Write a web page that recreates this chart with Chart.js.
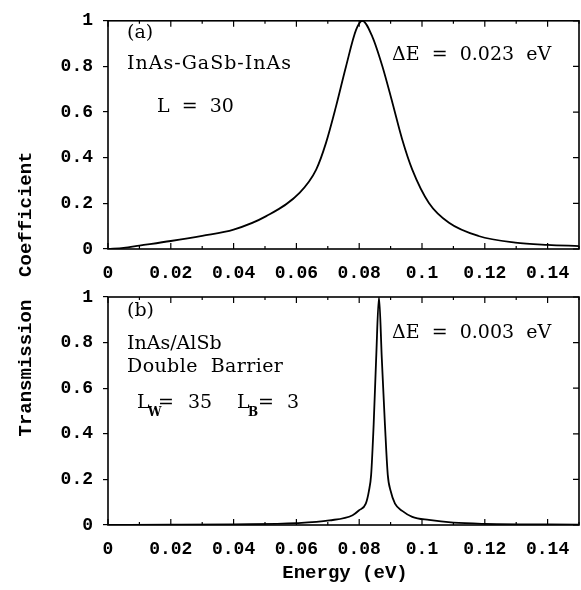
<!DOCTYPE html>
<html>
<head>
<meta charset="utf-8">
<script src="https://cdn.jsdelivr.net/npm/chart.js@4.4.1/dist/chart.umd.min.js"></script>
<style>
  html, body { margin: 0; padding: 0; background: #fff; }
  #wrap { position: relative; width: 581px; height: 590px; }
  #wrap canvas { position: absolute; left: 0; top: 0; }
</style>
</head>
<body>
<div id="wrap">
  <canvas id="chartA" width="581" height="590"></canvas>
  <canvas id="chartB" width="581" height="590"></canvas>
</div>
<script>
// --- Data ---
// (a) InAs-GaSb-InAs, L = 30
const energyA = [0, 0.005, 0.01, 0.02, 0.03, 0.04, 0.0504, 0.061, 0.0663, 0.0694, 0.0726, 0.0758, 0.079, 0.081,
                 0.0842, 0.0874, 0.0906, 0.0937, 0.0969, 0.1022, 0.1086, 0.118, 0.1297, 0.14, 0.15];
const transA  = [0, 0.005, 0.015, 0.035, 0.058, 0.085, 0.144, 0.246, 0.348, 0.464, 0.624, 0.80, 0.96, 1.0,
                 0.93, 0.80, 0.64, 0.48, 0.348, 0.202, 0.115, 0.057, 0.028, 0.018, 0.013];

// (b) InAs/AlSb double barrier, Lw = 35, Lb = 3
const energyB = [0, 0.02, 0.04, 0.06, 0.0705, 0.0779, 0.08, 0.0821, 0.0831, 0.0838, 0.0846, 0.0854, 0.0863,
                 0.0872, 0.0882, 0.0891, 0.09, 0.0914, 0.0937, 0.0969, 0.1022, 0.11, 0.12, 0.15];
const transB  = [0, 0.001, 0.003, 0.008, 0.02, 0.043, 0.065, 0.094, 0.15, 0.22, 0.44, 0.73, 1.0,
                 0.73, 0.44, 0.22, 0.15, 0.094, 0.062, 0.036, 0.022, 0.01, 0.005, 0.002];

const xTickLabels = ['0', '0.02', '0.04', '0.06', '0.08', '0.1', '0.12', '0.14'];
const yTickLabels = ['0', '0.2', '0.4', '0.6', '0.8', '1'];

const tickFont = { family: "'Liberation Mono', monospace", size: 18, weight: 'bold' };
const noteFont = "19px 'DejaVu Serif', serif";
const subFont = "bold 12px 'DejaVu Serif', serif";
const titleFont = "bold 19px 'Liberation Mono', monospace";

// frame, inner ticks and the text notes
const framePlugin = {
    id: 'frame',
    afterDraw(chart, args, opts) {
        const { ctx, chartArea: a, scales: { x, y } } = chart;
        ctx.save();
        ctx.strokeStyle = '#000';
        ctx.fillStyle = '#000';
        ctx.lineWidth = 1.6;
        ctx.strokeRect(a.left, a.top, a.right - a.left, a.bottom - a.top);

        ctx.lineWidth = 1.2;
        ctx.beginPath();
        for (let i = 0; i <= 15; i++) {
            const px = x.getPixelForValue(i * 0.01);
            const len = i % 2 === 0 ? 6 : 3;
            ctx.moveTo(px, a.bottom); ctx.lineTo(px, a.bottom - len);
            ctx.moveTo(px, a.top); ctx.lineTo(px, a.top + len);
        }
        y.ticks.forEach(t => {
            const py = y.getPixelForValue(t.value);
            ctx.moveTo(a.right, py); ctx.lineTo(a.right - 6, py);
        });
        ctx.stroke();

        ctx.textBaseline = 'middle';
        ctx.textAlign = 'left';
        (opts.notes || []).forEach(n => {
            ctx.font = n.sub ? subFont : noteFont;
            ctx.letterSpacing = (n.ls || 0) + 'px';
            ctx.fillText(n.t, n.x, n.y);
        });
        ctx.letterSpacing = '0px';

        ctx.font = titleFont;
        ctx.textAlign = 'center';
        if (opts.yTitle) {
            ctx.save();
            ctx.translate(opts.yTitle.x, opts.yTitle.y);
            ctx.rotate(-Math.PI / 2);
            ctx.fillText(opts.yTitle.text, 0, 0);
            ctx.restore();
        }
        if (opts.xTitle) {
            ctx.fillText(opts.xTitle.text, opts.xTitle.x, opts.xTitle.y);
        }
        ctx.restore();
    }
};

function makeChart(id, energy, trans, padTop, axisBottom, frameOpts) {
    const points = energy.map((e, i) => ({ x: e, y: trans[i] }));
    return new Chart(document.getElementById(id), {
        type: 'line',
        data: {
            datasets: [{
                data: points,
                borderColor: '#000',
                borderWidth: 1.8,
                pointRadius: 0,
                cubicInterpolationMode: 'monotone',
                fill: false
            }]
        },
        options: {
            responsive: false,
            animation: false,
            events: [],
            layout: { padding: { top: padTop, bottom: 590 - axisBottom - 45, left: 0, right: 2 } },
            scales: {
                x: {
                    type: 'linear',
                    min: 0,
                    max: 0.15,
                    grid: { display: false },
                    border: { display: false },
                    afterFit: s => { s.height = 45; },
                    ticks: {
                        stepSize: 0.02,
                        includeBounds: false,
                        color: '#000',
                        font: tickFont,
                        padding: 6,
                        maxRotation: 0,
                        autoSkip: false,
                        callback: (v, i) => xTickLabels[i]
                    }
                },
                y: {
                    min: 0,
                    max: 1,
                    grid: { drawOnChartArea: false, drawTicks: true, tickLength: 5, color: '#000', lineWidth: 1.2 },
                    border: { display: false },
                    afterFit: s => { s.width = 108; },
                    ticks: {
                        stepSize: 0.2,
                        color: '#000',
                        font: tickFont,
                        padding: 10,
                        callback: (v, i) => yTickLabels[i]
                    }
                }
            },
            plugins: {
                legend: { display: false },
                tooltip: { enabled: false },
                frame: frameOpts
            }
        },
        plugins: [framePlugin]
    });
}

makeChart('chartA', energyA, transA, 19, 249, {
    notes: [
        { t: '(a)', x: 127, y: 33 },
        { t: 'InAs-GaSb-InAs', x: 127, y: 64, ls: 1 },
        { t: 'L  =  30', x: 157, y: 107 },
        { t: '\u0394E  =  0.023  eV', x: 392, y: 55 }
    ],
    yTitle: { text: 'Transmission  Coefficient', x: 26, y: 294 }
});

makeChart('chartB', energyB, transB, 297, 525, {
    notes: [
        { t: '(b)', x: 127, y: 311 },
        { t: 'InAs/AlSb', x: 127, y: 344 },
        { t: 'Double  Barrier', x: 127, y: 367, ls: 0.4 },
        { t: 'L', x: 137, y: 403 },
        { t: 'W', x: 148, y: 413, sub: true },
        { t: '=', x: 158, y: 403 },
        { t: '35', x: 188, y: 403 },
        { t: 'L', x: 237, y: 403 },
        { t: 'B', x: 248, y: 413, sub: true },
        { t: '=', x: 258, y: 403 },
        { t: '3', x: 287, y: 403 },
        { t: '\u0394E  =  0.003  eV', x: 392, y: 333 }
    ],
    xTitle: { text: 'Energy (eV)', x: 345, y: 573 }
});
</script>
</body>
</html>
